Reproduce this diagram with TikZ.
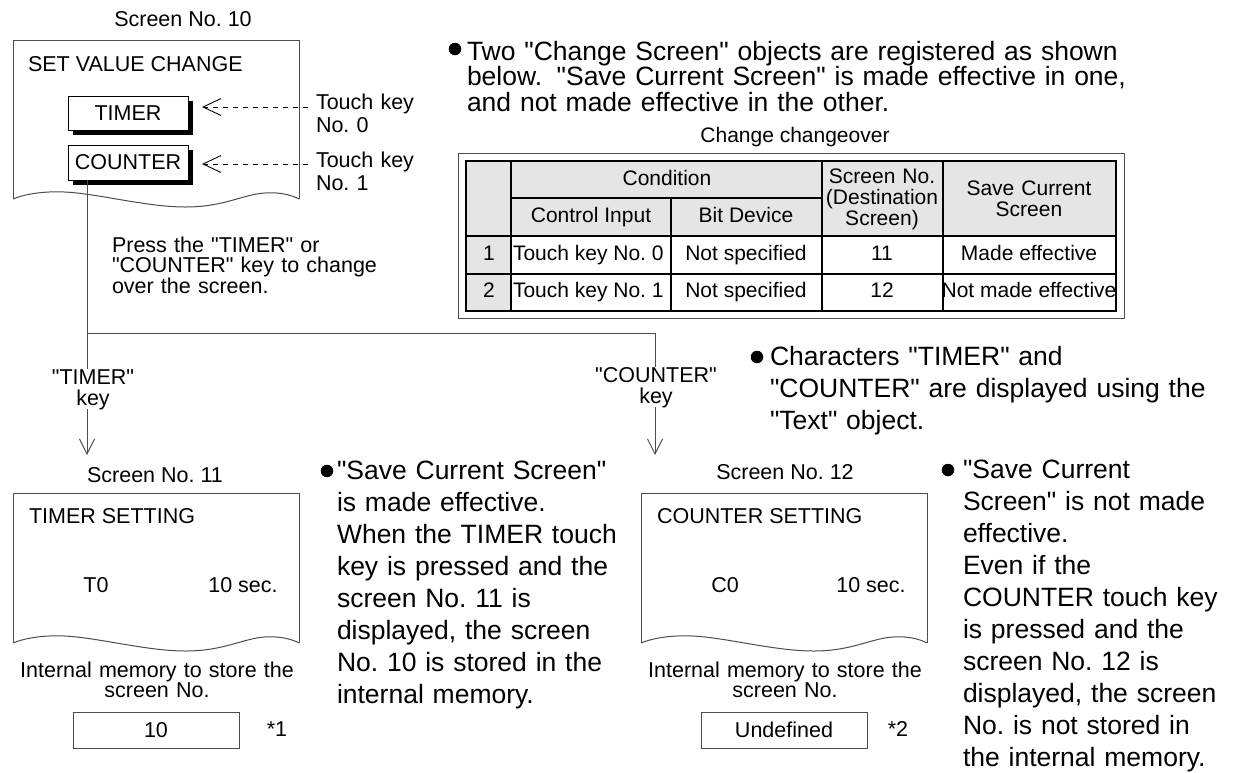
\documentclass[tikz,border=0pt]{standalone}
\usepackage{fontspec}
\setmainfont{Liberation Sans}[Ligatures=TeXOff]
\usetikzlibrary{arrows.meta,shadows}
\definecolor{lncol}{gray}{0.3}
\definecolor{hdcol}{gray}{0.9}
\newcommand\myscreen[4]{%
  \draw[ln] (#1,#4) -- (#1,#3) -- (#2,#3) -- (#2,#4);
  \draw[ln] plot[smooth, tension=0.7] coordinates {(#1,#4) ({#1+0.18*(#2-#1)},{#4-7}) ({#1+0.6*(#2-#1)},{#4+8}) ({#1+0.88*(#2-#1)},{#4-6}) (#2,#4)};
}
\begin{document}
\frenchspacing
\lineskiplimit=-100pt
\begin{tikzpicture}[x=1pt,y=-1pt,
  every node/.style={inner sep=0pt, outer sep=0pt},
  big/.style={font=\fontsize{26.5}{32}\selectfont},
  bigt/.style={font=\fontsize{26.5}{25.7}\selectfont},
  sm/.style={font=\fontsize{21.5}{21}\selectfont},
  smt/.style={font=\fontsize{21.5}{20.5}\selectfont},
  tb/.style={font=\fontsize{21}{21}\selectfont},
  ln/.style={draw=lncol, line width=1pt},
  tbl/.style={draw=black, line width=1.3pt},
  arr/.style={ln, -{Straight Barb[length=15pt,width=15pt]}},
  dasharr/.style={draw=black, line width=0.9pt, dash pattern=on 5pt off 5pt, -{Straight Barb[length=18pt,width=17pt]}},
  btn/.style={sm, draw=black, line width=0.9pt, fill=white, minimum width=120pt,
    drop shadow={shadow xshift=5pt, shadow yshift=-5pt, fill=black, opacity=1}},
  membox/.style={sm, ln, minimum width=166pt, minimum height=36pt},
  bul/.style={circle, fill=black, minimum size=12.5pt},
  keylab/.style={sm, fill=white, align=center, text width=#1},
]
\useasboundingbox (0,0) rectangle (1237,772);

% ---------- Screen No. 10 ----------
\node[sm, anchor=base] (s10lab) at (183,26) {Screen No. 10};
\myscreen{13}{299}{40}{199}
\node[sm, anchor=base west] (s10title) at (28,71) {SET VALUE CHANGE};
\node[btn, minimum height=34pt] (btnT) at (128,113) {TIMER};
\node[btn, minimum height=35pt] (btnC) at (128,162.5) {COUNTER};

\node[sm, anchor=base west, align=left, text width=120pt, inner xsep=8pt] (tk0) at (308,109) {Touch key\\[2pt]No. 0};
\node[sm, anchor=base west, align=left, text width=120pt, inner xsep=8pt] (tk1) at (308,167) {Touch key\\[2pt]No. 1};
\coordinate (ak0) at (202,107);
\coordinate (ak1) at (202,164);
\draw[dasharr] (tk0.west |- ak0) -- (ak0);
\draw[dasharr] (tk1.west |- ak1) -- (ak1);

\node[smt, anchor=base west, align=left, text width=320pt] (press) at (112,252) {Press the "TIMER" or\\"COUNTER" key to change\\over the screen.};

% ---------- connectors ----------
\coordinate (j1) at (87,333);
\coordinate (j2) at (655,333);
\coordinate (t1) at (87,455);
\coordinate (t2) at (655,455);
\draw[ln] (btnC.south -| j1) -- (j1) -- (j2);
\draw[arr] (j1) -- (t1);
\draw[arr] (j2) -- (t2);
\node[keylab=92pt, anchor=base] (ktimer) at (93,384) {"TIMER"\\key};
\node[keylab=126pt, anchor=base] (kcounter) at (656,382) {"COUNTER"\\key};

% ---------- top bullet + table ----------
\node[bul] (bu1) at (455,49) {};
\node[bigt, anchor=base west, align=left, text width=700pt] (txt1) at (467,60) {Two "Change Screen" objects are registered as shown\\below.\hspace{0.55em}"Save Current Screen" is made effective in one,\\and not made effective in the other.};

\node[tb, anchor=base] (tcap) at (795,142) {Change changeover};
\draw[ln] (458,153) rectangle (1124,318);
\fill[hdcol] (466,161) rectangle (1116,236);
\fill[hdcol] (466,236) rectangle (511,311);
\draw[tbl] (466,161) rectangle (1116,311);
\draw[tbl] (511,198) -- (822,198);
\draw[tbl] (466,236) -- (1116,236);
\draw[tbl] (466,274) -- (1116,274);
\draw[tbl] (511,161) -- (511,311);
\draw[tbl] (671,198) -- (671,311);
\draw[tbl] (822,161) -- (822,311);
\draw[tbl] (943,161) -- (943,311);

\node[tb, anchor=base] (hcond) at (667,185) {Condition};
\node[tb, anchor=base] (hci) at (591,222) {Control Input};
\node[tb, anchor=base] (hbd) at (746,222) {Bit Device};
\node[tb, anchor=base, align=center, text width=120pt] (hsn) at (882,183) {Screen No.\\(Destination\\Screen)};
\node[tb, anchor=base, align=center, text width=170pt] (hsc) at (1029,195) {Save Current\\Screen};

\node[tb, anchor=base] (r1n) at (489,260) {1};
\node[tb, anchor=base west] (r1ci) at (513,260) {Touch key No. 0};
\node[tb, anchor=base] (r1bd) at (746,260) {Not specified};
\node[tb, anchor=base] (r1sn) at (882,260) {11};
\node[tb, anchor=base] (r1sc) at (1029,260) {Made effective};

\node[tb, anchor=base] (r2n) at (489,297) {2};
\node[tb, anchor=base west] (r2ci) at (513,297) {Touch key No. 1};
\node[tb, anchor=base] (r2bd) at (746,297) {Not specified};
\node[tb, anchor=base] (r2sn) at (882,297) {12};
\node[tb, anchor=base] (r2sc) at (1029,297) {Not made effective};

% ---------- Characters bullet ----------
\node[bul] (bu2) at (757,357) {};
\node[big, anchor=base west, align=left, text width=470pt] (txt2) at (770,365) {Characters "TIMER" and\\"COUNTER" are displayed using the\\"Text" object.};

% ---------- Screen No. 11 ----------
\node[sm, anchor=base] (s11lab) at (155,482) {Screen No. 11};
\myscreen{13}{299}{493}{643}
\node[sm, anchor=base west] (s11title) at (29,523) {TIMER SETTING};
\node[sm, anchor=base] (s11a) at (96,592) {T0};
\node[sm, anchor=base] (s11b) at (243,592) {10 sec.};
\node[smt, anchor=base, align=center, text width=300pt] (m11lab) at (157,677) {Internal memory to store the\\screen No.};
\node[membox] (m11) at (156,730) {10};
\node[sm, anchor=base] (n1) at (277,736) {*1};

% ---------- middle bullet ----------
\node[bul] (bu3) at (327,471) {};
\node[big, anchor=base west, align=left, text width=330pt] (txt3) at (337,479) {"Save Current Screen"\\is made effective.\\When the TIMER touch\\key is pressed and the\\screen No. 11 is\\displayed, the screen\\No. 10 is stored in the\\internal memory.};

% ---------- Screen No. 12 ----------
\node[sm, anchor=base] (s12lab) at (785,479) {Screen No. 12};
\myscreen{641}{927}{493}{643}
\node[sm, anchor=base west] (s12title) at (657,523) {COUNTER SETTING};
\node[sm, anchor=base] (s12a) at (725,592) {C0};
\node[sm, anchor=base] (s12b) at (871,592) {10 sec.};
\node[smt, anchor=base, align=center, text width=300pt] (m12lab) at (785,677) {Internal memory to store the\\screen No.};
\node[membox] (m12) at (784,730) {Undefined};
\node[sm, anchor=base] (n2) at (898,736) {*2};

% ---------- right bullet ----------
\node[bul] (bu4) at (948,470) {};
\node[big, anchor=base west, align=left, text width=272pt] (txt4) at (963,478) {"Save Current\\Screen" is not made\\effective.\\Even if the\\COUNTER touch key\\is pressed and the\\screen No. 12 is\\displayed, the screen\\No. is not stored in\\the internal memory.};
\end{tikzpicture}
\end{document}
